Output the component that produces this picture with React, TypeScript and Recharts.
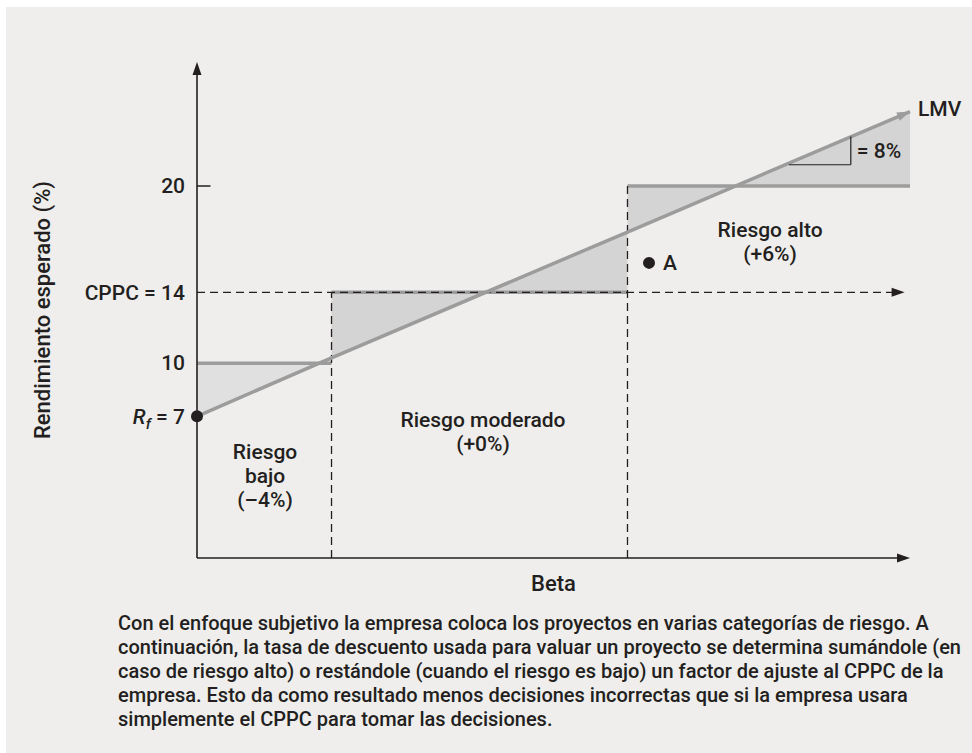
import React from 'react';
import {
  ComposedChart,
  Area,
  Line,
  XAxis,
  YAxis,
  ReferenceLine,
  ReferenceDot,
} from 'recharts';

// risk classes: beta break points and the required return of each class
const betaPts = [0, 0.5, 0.5, 1.6, 1.6, 2.65];
const lmvPts = [7, 10.3, 10.3, 17.4, 17.4, 24.2];
const stepPts = [10, 10, 14, 14, 20, 20];

const yTicks = [7, 10, 14, 20];
const yTickLabels = ['= 7', '10', 'CPPC = 14', '20'];

const cppc = 14;
const pointA = { beta: 1.68, ret: 15.66 };
const slopeBeta = [2.2, 2.43];
const slopeRet = [21.2, 22.8];

const regionBeta = [0.253, 1.063, 2.13];
const regionRet = [3.63, 6.11, 16.87];
const regionText = [
  ['Riesgo', 'bajo', '(\u20134%)'],
  ['Riesgo moderado', '(+0%)'],
  ['Riesgo alto', '(+6%)'],
];

const caption = [
  'Con el enfoque subjetivo la empresa coloca los proyectos en varias categorías de riesgo. A',
  'continuación, la tasa de descuento usada para valuar un proyecto se determina sumándole (en',
  'caso de riesgo alto) o restándole (cuando el riesgo es bajo) un factor de ajuste al CPPC de la',
  'empresa. Esto da como resultado menos decisiones incorrectas que si la empresa usara',
  'simplemente el CPPC para tomar las decisiones.',
];

const data = betaPts.map((b, i) => ({
  beta: b,
  lmv: lmvPts[i],
  step: stepPts[i],
  bandLow: i < 2 ? [stepPts[i], lmvPts[i]] : null,
  bandHigh: i >= 2 ? [stepPts[i], lmvPts[i]] : null,
}));

const INK = '#231f20';
const GRAY = '#9c9c9c';
const FONT = "Roboto, 'Liberation Sans', Arial, sans-serif";
const FS = 21;

function arrowLine(p: any, color: string, width: number, dash?: string, withLine = true) {
  const { x1, y1, x2, y2 } = p;
  const dx = x2 - x1;
  const dy = y2 - y1;
  const len = Math.sqrt(dx * dx + dy * dy) || 1;
  const ux = dx / len;
  const uy = dy / len;
  const L = 13;
  const H = 4.5;
  const bx = x2 - ux * L;
  const by = y2 - uy * L;
  const pts = `${x2},${y2} ${bx - uy * H},${by + ux * H} ${bx + uy * H},${by - ux * H}`;
  return (
    <g>
      {withLine && (
        <line x1={x1} y1={y1} x2={bx + ux * 2} y2={by + uy * 2} stroke={color} strokeWidth={width} strokeDasharray={dash} />
      )}
      <polygon points={pts} fill={color} />
    </g>
  );
}

const YTick = (props: any) => {
  const { x, y, payload } = props;
  const idx = yTicks.indexOf(payload.value);
  const tx = x - 4;
  if (idx === 0) {
    return (
      <text x={tx} y={y} dy="0.35em" textAnchor="end" fill={INK} fontSize={FS} fontFamily={FONT} fontWeight={500}>
        <tspan fontStyle="italic">R</tspan>
        <tspan fontStyle="italic" fontSize={15} dy={5}>f</tspan>
        <tspan dy={-5}> {yTickLabels[idx]}</tspan>
      </text>
    );
  }
  return (
    <text x={tx} y={y} dy="0.35em" textAnchor="end" fill={INK} fontSize={FS} fontFamily={FONT} fontWeight={500}>
      {yTickLabels[idx]}
    </text>
  );
};

const textProps = { fill: INK, fontSize: FS, fontFamily: FONT, fontWeight: 500 };
const titleProps = { ...textProps, fontSize: 22 };

export default function App() {
  const lastIdx = betaPts.length - 1;
  return (
    <div style={{ position: 'absolute', left: 0, top: 0, width: 972, height: 753, background: '#fff' }}>
      <div style={{ position: 'absolute', left: 6, top: 7, right: 0, bottom: 0, background: '#efeeec' }} />
      <div style={{ position: 'absolute', left: 0, top: 0 }}>
        <ComposedChart width={972} height={600} data={data} margin={{ top: 62, right: 62, bottom: 0, left: 30 }}>
          <XAxis
            dataKey="beta"
            type="number"
            domain={[0, 2.65]}
            ticks={[]}
            tick={false}
            axisLine={false}
            tickLine={false}
            height={42}
            label={{ value: 'Beta', position: 'insideTop', offset: 17, ...titleProps }}
          />
          <YAxis
            type="number"
            domain={[-1, 27]}
            ticks={yTicks}
            tick={<YTick />}
            axisLine={false}
            tickLine={false}
            width={167}
            label={{
              value: 'Rendimiento esperado (%)',
              angle: -90,
              position: 'insideLeft',
              offset: 12,
              ...titleProps,
              style: { textAnchor: 'middle' },
            }}
          />
          <Area dataKey="bandLow" type="linear" fill="#e0e0e0" fillOpacity={1} stroke="none" isAnimationActive={false} />
          <Area dataKey="bandHigh" type="linear" fill="#d4d4d4" fillOpacity={1} stroke="none" isAnimationActive={false} />

          {/* risk class levels */}
          {[0, 2, 4].map((i) => (
            <ReferenceLine
              key={`lvl-${i}`}
              segment={[
                { x: betaPts[i], y: stepPts[i] },
                { x: betaPts[i + 1], y: stepPts[i + 1] },
              ]}
              stroke={GRAY}
              strokeWidth={3.5}
            />
          ))}

          {/* class boundaries */}
          {[1, 3].map((i) => (
            <ReferenceLine
              key={`bnd-${i}`}
              segment={[
                { x: betaPts[i], y: -1 },
                { x: betaPts[i], y: stepPts[i + 1] },
              ]}
              stroke={INK}
              strokeWidth={1.3}
              strokeDasharray="8 5"
            />
          ))}

          {/* CPPC */}
          <ReferenceLine
            segment={[
              { x: 0, y: cppc },
              { x: betaPts[lastIdx] - 0.02, y: cppc },
            ]}
            shape={(p: any) => arrowLine(p, INK, 1.3, '8 5')}
          />

          {/* 20 tick */}
          <ReferenceLine
            segment={[
              { x: 0, y: 20 },
              { x: 0.05, y: 20 },
            ]}
            stroke={INK}
            strokeWidth={1.5}
          />

          <Line dataKey="lmv" type="linear" stroke={GRAY} strokeWidth={3.5} dot={false} isAnimationActive={false} />
          <ReferenceLine
            segment={[
              { x: betaPts[0], y: lmvPts[0] },
              { x: betaPts[lastIdx], y: lmvPts[lastIdx] },
            ]}
            shape={(p: any) => arrowLine(p, GRAY, 3.5, undefined, false)}
          />

          {/* slope triangle */}
          <ReferenceLine
            segment={[
              { x: slopeBeta[0], y: slopeRet[0] },
              { x: slopeBeta[1], y: slopeRet[0] },
            ]}
            stroke={INK}
            strokeWidth={1.2}
          />
          <ReferenceLine
            segment={[
              { x: slopeBeta[1], y: slopeRet[0] },
              { x: slopeBeta[1], y: slopeRet[1] },
            ]}
            stroke={INK}
            strokeWidth={1.2}
          />
          <ReferenceDot
            x={slopeBeta[1]}
            y={(slopeRet[0] + slopeRet[1]) / 2}
            r={0}
            ifOverflow="visible"
            shape={(p: any) => (
              <text x={p.cx + 6} y={p.cy} dy="0.35em" {...textProps}>
                = 8%
              </text>
            )}
          />

          {/* axes */}
          <ReferenceLine
            segment={[
              { x: 0, y: -1 },
              { x: 0, y: 27 },
            ]}
            ifOverflow="visible"
            shape={(p: any) => arrowLine({ x1: p.x1, y1: Math.max(p.y1, p.y2), x2: p.x2, y2: Math.min(p.y1, p.y2) }, INK, 1.6)}
          />
          <ReferenceLine
            segment={[
              { x: 0, y: -1 },
              { x: betaPts[lastIdx], y: -1 },
            ]}
            ifOverflow="visible"
            shape={(p: any) => arrowLine(p, INK, 1.6)}
          />

          <ReferenceDot
            x={betaPts[lastIdx]}
            y={lmvPts[lastIdx]}
            r={0}
            ifOverflow="visible"
            shape={(p: any) => (
              <text x={p.cx + 8} y={p.cy - 3} dy="0.35em" {...textProps}>
                LMV
              </text>
            )}
          />

          {/* region labels */}
          {regionText.map((lines, k) => (
            <ReferenceDot
              key={`reg-${k}`}
              x={regionBeta[k]}
              y={regionRet[k]}
              r={0}
              ifOverflow="visible"
              shape={(p: any) => (
                <text textAnchor="middle" {...textProps}>
                  {lines.map((s, j) => (
                    <tspan key={j} x={p.cx} y={p.cy + (j - (lines.length - 1) / 2) * 24} dy="0.35em">
                      {s}
                    </tspan>
                  ))}
                </text>
              )}
            />
          ))}

          <ReferenceDot x={0} y={lmvPts[0]} r={6} fill={INK} stroke="none" ifOverflow="visible" />
          <ReferenceDot
            x={pointA.beta}
            y={pointA.ret}
            r={6}
            fill={INK}
            stroke="none"
            label={{ value: 'A', position: 'right', offset: 8, ...textProps }}
          />
        </ComposedChart>
      </div>
      <div
        style={{
          position: 'absolute',
          left: 118,
          top: 611,
          fontFamily: FONT,
          fontWeight: 500,
          fontSize: 20,
          lineHeight: '24px',
          color: INK,
          whiteSpace: 'nowrap',
        }}
      >
        {caption.map((s, i) => (
          <div key={i}>{s}</div>
        ))}
      </div>
    </div>
  );
}
